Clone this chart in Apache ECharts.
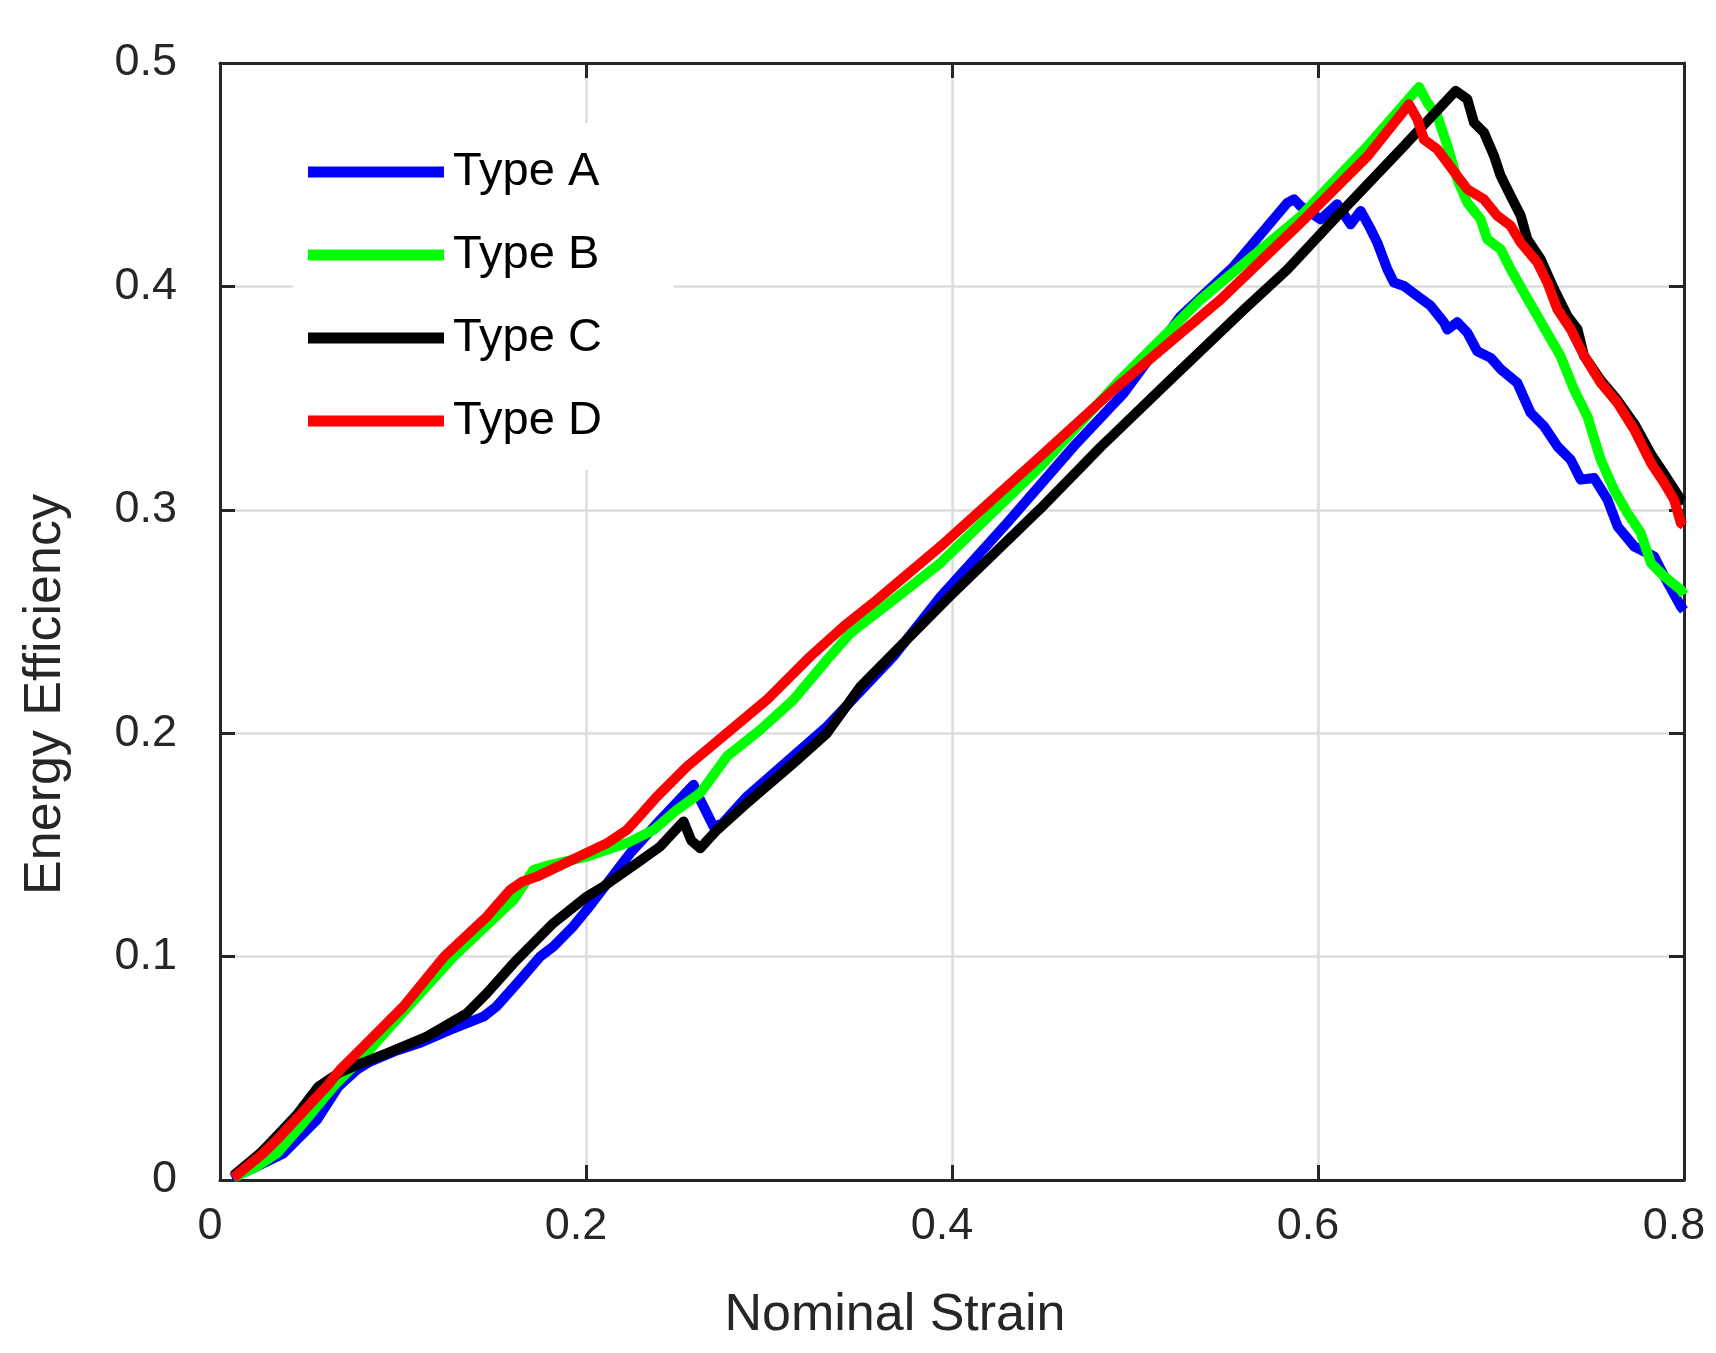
<!DOCTYPE html>
<html>
<head>
<meta charset="utf-8">
<script src="https://cdn.jsdelivr.net/npm/echarts@6/dist/echarts.min.js"></script>
<style>html,body{margin:0;padding:0;background:#fff;}#c{width:1716px;height:1353px;}</style>
</head>
<body>
<div id="c"></div>
<script>
var seriesNames = ['Type A', 'Type B', 'Type C', 'Type D'];
var xTicks = [0, 0.2, 0.4, 0.6, 0.8];
var yTicks = [0, 0.1, 0.2, 0.3, 0.4, 0.5];

var typeA = [[0.0064,0.001],[0.02,0.006],[0.0346,0.0119],[0.0529,0.0269],[0.0647,0.0418],[0.0747,0.0493],[0.082,0.053],[0.095,0.0575],[0.109,0.0613],[0.125,0.067],[0.1439,0.0731],[0.151,0.0776],[0.164,0.0896],[0.175,0.1],[0.1822,0.1045],[0.193,0.1135],[0.2005,0.121],[0.2242,0.1463],[0.2406,0.1612],[0.2588,0.1769],[0.2625,0.170],[0.2697,0.1582],[0.2745,0.1595],[0.288,0.1717],[0.3317,0.203],[0.368,0.2344],[0.3937,0.261],[0.4301,0.2941],[0.4665,0.3284],[0.4939,0.3523],[0.5249,0.3866],[0.554,0.409],[0.5832,0.4374],[0.587,0.439],[0.5905,0.4359],[0.6014,0.43],[0.6105,0.4368],[0.6178,0.4278],[0.6233,0.4338],[0.6288,0.4256],[0.6324,0.4196],[0.6379,0.4077],[0.6415,0.4017],[0.647,0.4002],[0.6543,0.3957],[0.6616,0.3913],[0.6689,0.3838],[0.6707,0.3807],[0.6761,0.384],[0.6816,0.3793],[0.687,0.371],[0.6944,0.368],[0.6998,0.363],[0.7089,0.3568],[0.7162,0.3434],[0.7235,0.3374],[0.7308,0.3284],[0.7381,0.3224],[0.7436,0.3135],[0.7509,0.3142],[0.7582,0.3045],[0.7637,0.2926],[0.7728,0.2836],[0.7837,0.2791],[0.7892,0.2702],[0.7983,0.2567],[0.8,0.255]];

var typeB = [[0.0073,0.001],[0.02,0.006],[0.031,0.0119],[0.045,0.025],[0.062,0.0418],[0.071,0.0493],[0.0784,0.0552],[0.1,0.075],[0.1276,0.1],[0.1604,0.1254],[0.1713,0.1388],[0.18,0.141],[0.2005,0.1448],[0.2224,0.1508],[0.2369,0.1567],[0.2497,0.1657],[0.2624,0.1732],[0.277,0.1896],[0.2952,0.2015],[0.3134,0.215],[0.3317,0.2329],[0.3445,0.2448],[0.3681,0.2597],[0.3937,0.2762],[0.4483,0.3194],[0.4903,0.3568],[0.5358,0.3941],[0.5905,0.4314],[0.627,0.4627],[0.6552,0.4893],[0.6597,0.4823],[0.6652,0.4763],[0.6707,0.4629],[0.6761,0.4479],[0.6816,0.4375],[0.6889,0.43],[0.6925,0.4211],[0.6998,0.4166],[0.7053,0.4077],[0.7126,0.3972],[0.7199,0.3868],[0.7272,0.3763],[0.7326,0.3687],[0.7399,0.3538],[0.7472,0.3419],[0.7545,0.3224],[0.7618,0.309],[0.7691,0.2986],[0.7764,0.2896],[0.7819,0.2762],[0.7892,0.2702],[0.7983,0.2642],[0.8,0.262]];

var typeC = [[0.0073,0.002],[0.0219,0.0119],[0.0273,0.0164],[0.0418,0.029],[0.0538,0.0418],[0.065,0.048],[0.0765,0.052],[0.0911,0.0567],[0.113,0.0642],[0.1349,0.0746],[0.1458,0.0836],[0.1604,0.097],[0.1822,0.115],[0.2005,0.1269],[0.2096,0.1314],[0.2278,0.1418],[0.2406,0.1493],[0.2533,0.1605],[0.2575,0.152],[0.2624,0.1485],[0.2716,0.1567],[0.288,0.1687],[0.3134,0.1866],[0.3317,0.2],[0.35,0.2209],[0.3681,0.2359],[0.3991,0.2615],[0.4483,0.3005],[0.4811,0.328],[0.5176,0.3568],[0.5595,0.3896],[0.5832,0.4075],[0.6087,0.4299],[0.6452,0.4613],[0.6752,0.4875],[0.6816,0.4838],[0.6852,0.4734],[0.6907,0.4689],[0.6962,0.4584],[0.6998,0.4495],[0.7053,0.4405],[0.7108,0.4316],[0.7144,0.4211],[0.7217,0.4121],[0.729,0.3987],[0.7363,0.3868],[0.7418,0.3808],[0.7454,0.3689],[0.7545,0.358],[0.7637,0.349],[0.7728,0.3385],[0.7819,0.325],[0.7892,0.316],[0.7983,0.3045],[0.8,0.304]];

var typeD = [[0.0073,0.001],[0.0235,0.0119],[0.031,0.0179],[0.0547,0.0388],[0.0583,0.0418],[0.0656,0.0493],[0.0765,0.0582],[0.1002,0.0776],[0.1225,0.1],[0.1458,0.1179],[0.1586,0.1299],[0.165,0.1335],[0.1732,0.1358],[0.2005,0.1465],[0.212,0.151],[0.2224,0.1567],[0.23,0.1635],[0.2386,0.1715],[0.2552,0.1851],[0.277,0.2],[0.2989,0.215],[0.3226,0.2344],[0.3408,0.2478],[0.359,0.2597],[0.3937,0.2836],[0.4483,0.3239],[0.4884,0.3538],[0.5467,0.3941],[0.5905,0.4284],[0.627,0.4582],[0.6497,0.4815],[0.6543,0.4748],[0.6579,0.4658],[0.6652,0.4614],[0.6707,0.4554],[0.6761,0.4494],[0.6816,0.4435],[0.6907,0.439],[0.698,0.4316],[0.7053,0.4271],[0.7108,0.4196],[0.7199,0.4107],[0.7253,0.4017],[0.7308,0.3898],[0.7381,0.3808],[0.7454,0.3689],[0.7545,0.3568],[0.7637,0.3478],[0.7728,0.3359],[0.7819,0.321],[0.7892,0.312],[0.7946,0.3045],[0.7983,0.2941],[0.8,0.293]];

var seriesData = [typeA, typeB, typeC, typeD];
var seriesColors = ['#0000ff', '#00ff00', '#000000', '#ff0000'];

var FONT = '"Liberation Sans", Arial, Helvetica, sans-serif';
var AX = '#262626';

var chart = echarts.init(document.getElementById('c'), null, {renderer: 'canvas'});

function baseAxis(extra) {
  var o = {
    type: 'value',
    axisLine: {show: true, onZero: false, lineStyle: {color: AX, width: 3}},
    axisTick: {show: true, inside: true, length: 15, lineStyle: {color: AX, width: 3}},
    splitLine: {show: false},
    axisLabel: {show: false}
  };
  for (var k in extra) o[k] = extra[k];
  return o;
}

var option = {
  animation: false,
  backgroundColor: '#ffffff',
  grid: {left: 220, right: 32, top: 63, bottom: 173, containLabel: false},
  legend: {
    data: seriesNames,
    orient: 'vertical',
    left: 293,
    top: 123,
    padding: [24, 72, 24, 15],
    backgroundColor: '#ffffff',
    icon: 'rect',
    itemWidth: 136,
    itemHeight: 11,
    itemGap: 33,
    selectedMode: false,
    textStyle: {fontSize: 47, lineHeight: 50, color: '#000000', fontFamily: FONT, padding: [0, 0, 0, 4]}
  },
  xAxis: [
    baseAxis({
      position: 'bottom', min: xTicks[0], max: xTicks[xTicks.length - 1], interval: 0.2,
      splitLine: {show: true, lineStyle: {color: '#dcdcdc', width: 2.5}},
      axisLabel: {show: true, fontSize: 45, color: AX, fontFamily: FONT, margin: 24, padding: [0, 20, 0, 0]},
      name: 'Nominal Strain', nameLocation: 'middle', nameGap: 110,
      nameTextStyle: {fontSize: 52, lineHeight: 52, color: AX, fontFamily: FONT, padding: [0, 114, 0, 0]}
    }),
    baseAxis({position: 'top', min: xTicks[0], max: xTicks[xTicks.length - 1], interval: 0.2})
  ],
  yAxis: [
    baseAxis({
      position: 'left', min: yTicks[0], max: yTicks[yTicks.length - 1], interval: 0.1,
      splitLine: {show: true, lineStyle: {color: '#dcdcdc', width: 2.5}},
      axisLabel: {show: true, fontSize: 45, color: AX, fontFamily: FONT, margin: 43, padding: [0, 0, 30, 0]},
      name: 'Energy Efficiency', nameLocation: 'middle', nameGap: 148,
      nameTextStyle: {fontSize: 52, lineHeight: 52, color: AX, fontFamily: FONT, padding: [0, 146, 0, 0]}
    }),
    baseAxis({position: 'right', min: yTicks[0], max: yTicks[yTicks.length - 1], interval: 0.1})
  ],
  series: seriesNames.map(function (n, i) {
    return {
      name: n,
      type: 'line',
      xAxisIndex: 0,
      yAxisIndex: 0,
      data: seriesData[i],
      showSymbol: false,
      symbol: 'none',
      smooth: false,
      color: seriesColors[i],
      itemStyle: {color: seriesColors[i]},
      lineStyle: {color: seriesColors[i], width: 10, join: 'round', cap: 'butt'},
      emphasis: {disabled: true}
    };
  })
};
chart.setOption(option);
</script>
</body>
</html>
